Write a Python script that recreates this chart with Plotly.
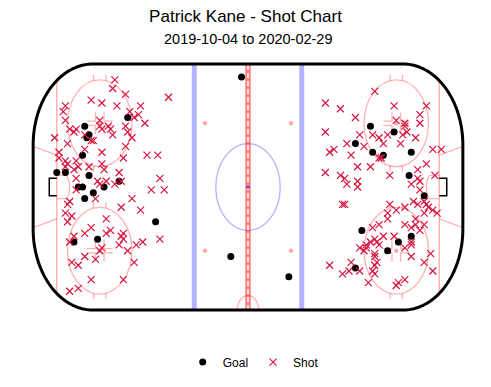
import numpy as np
import plotly.graph_objects as go

# ---------------- data (rink feet) ----------------
goal_x = [-76, -74, -75, -56, -77, -89, -85, -74, -60, -79, -77, -67, -72, -76, -43, -81, -70,
          -3, -8, 19,
          57, 68, 50, 58, 63, 76, 75, 82, 53, 76, 70, 65, 50]
goal_y = [21, 18, 17, 24, 11, 5, 5, 4, 2, 0, 0, 0, -2, -4, -12, -19, -18,
          38, -24, -31,
          21, 19, 15, 12, 11, 12, 4, -3, -15, -17, -19, -22, -28]

shot_x = [-62, -63, -57, -37, -73, -68, -85, -61, -50, -86, -55, -51, -53, -48, -85, -83, -81, -80,
          -69, -69, -68, -65, -64, -63, -57, -56, -54, -90, -84, -76, -73, -72, -57, -76, -68, -58,
          -47, -42, -88, -88, -85, -84, -80, -79, -74, -68, -67, -85, -81, -80, -60, -70, -69, -66,
          -62, -59, -41, -80, -45, -39, -71, -54, -84, -83, -59, -50, -85, -82, -84, -66, -73, -76,
          -66, -64, -58, -59, -58, -60, -81, -83, -52, -49, -41, -56, -68, -69, -76, -71, -53, -82,
          -79, -73, -58, -79, -83,
          59, 36, 43, 68, 83, 50, 80, 80, 69, 73, 73, 36, 52, 58, 61, 65, 72, 74, 78, 46, 54, 63,
          71, 38, 40, 48, 61, 62, 86, 90, 51, 57, 66, 36, 43, 45, 46, 51, 51, 79, 83, 87, 79, 80,
          76, 80, 44, 45, 66, 69, 73, 77, 79, 82, 83, 84, 86, 88, 65, 65, 82, 78, 73, 76, 78, 80,
          82, 58, 61, 63, 68, 59, 60, 57, 55, 55, 52, 54, 61, 73, 76, 76, 76, 59, 59, 60, 59, 58,
          59, 85, 82, 86, 48, 47, 44, 52, 38, 56, 69, 70, 73]
shot_y = [37, 34, 32, 31, 30, 29, 28, 28, 28, 26, 26, 25, 24, 22, 23, 20, 19, 20,
          23, 21, 20, 21, 20, 18, 21, 19, 17, 17, 15, 18, 16, 16, 14, 13, 12, 10,
          11, 11, 12, 10, 9, 8, 9, 7, 7, 8, 6, 7, 6, 3, 5, 2, 1, 2,
          1, 2, 3, -1, -1, -1, -4, -4, -6, -5, -7, -8, -9, -10, -12, -11, -14, -16,
          -16, -15, -16, -17, -18, -20, -17, -19, -20, -19, -18, -22, -21, -22, -24, -25, -26, -26,
          -27, -32, -32, -35, -36,
          33, 29, 27, 28, 28, 24, 25, 22, 23, 22, 21, 19, 18, 18, 17, 18, 18, 19, 17, 15, 14, 15,
          15, 12, 13, 11, 10, 10, 13, 13, 7, 7, 4, 5, 4, 3, 1, 2, 0, 6, 8, 4, 3, 2,
          1, -1, -6, -6, -6, -8, -7, -5, -6, -5, -6, -7, -8, -9, -9, -11, -9, -11, -13, -14, -13, -15,
          -13, -14, -13, -17, -17, -18, -19, -19, -20, -21, -21, -22, -20, -21, -19, -20, -24, -23, -24, -26, -27, -29,
          -30, -23, -26, -29, -26, -29, -30, -29, -27, -33, -34, -33, -32]

title_text = "Patrick Kane - Shot Chart"
subtitle_text = "2019-10-04 to 2020-02-29"

# ---------------- rink geometry ----------------
PINK = "rgba(255,0,0,0.3)"
PINK_FILL = "rgba(255,0,0,0.35)"
BLUE = "rgba(0,0,255,0.3)"
RED = "rgba(255,0,0,0.5)"
FONT = "Liberation Sans, Arial, Helvetica, sans-serif"

shapes = []


def path(xs, ys, close=False):
    s = "M " + " L ".join(f"{x:.3f},{y:.3f}" for x, y in zip(xs, ys))
    return s + (" Z" if close else "")


def add_path(xs, ys, color, width, close=False, fill=None, dash=None):
    d = dict(type="path", path=path(xs, ys, close), xref="x", yref="y", layer="below",
             line=dict(color=color, width=width))
    if dash:
        d["line"]["dash"] = dash
    if fill:
        d["fillcolor"] = fill
    shapes.append(d)


def arc(cx, cy, r, a0, a1, n=60):
    t = np.radians(np.linspace(a0, a1, n))
    return list(cx + r * np.cos(t)), list(cy + r * np.sin(t))


def add_line(x0, y0, x1, y1, color, width, dash=None):
    d = dict(type="line", x0=x0, y0=y0, x1=x1, y1=y1, xref="x", yref="y", layer="below",
             line=dict(color=color, width=width))
    if dash:
        d["line"]["dash"] = dash
    shapes.append(d)


def add_circle(cx, cy, rx, ry, color=None, width=0, fill=None):
    d = dict(type="circle", x0=cx - rx, x1=cx + rx, y0=cy - ry, y1=cy + ry, xref="x", yref="y",
             layer="below", line=dict(color=color or "rgba(0,0,0,0)", width=width))
    if fill:
        d["fillcolor"] = fill
    shapes.append(d)


R = 28.0
yext = 14.5 + np.sqrt(R ** 2 - (89 - 72) ** 2)

# goal lines
for s in (-1, 1):
    add_line(s * 89, -yext, s * 89, yext, PINK, 1.5)
    # trapezoids
    add_line(s * 89, 11, s * 100, 14, PINK, 1.3)
    add_line(s * 89, -11, s * 100, -14, PINK, 1.3)

# blue lines
for s in (-1, 1):
    add_line(s * 25, -42.5, s * 25, 42.5, BLUE, 5)

# center circle
add_circle(0, 0, 15, 15, color=BLUE, width=1.3)

# end zone faceoff circles
for sx in (-1, 1):
    for sy in (-1, 1):
        cx, cy = sx * 69, sy * 22
        add_circle(cx, cy, 15, 15, color=PINK, width=1.3)
        hy = np.sqrt(15 ** 2 - 2.875 ** 2)
        for hx in (-2.875, 2.875):
            for hs in (-1, 1):
                add_line(cx + hx, cy + hs * hy, cx + hx, cy + hs * (hy + 2), PINK, 1.3)
        for lx in (-1, 1):
            for ly in (-1, 1):
                add_path([cx + lx * 6, cx + lx * 2, cx + lx * 2],
                         [cy + ly * 0.75, cy + ly * 0.75, cy + ly * 3.75], PINK, 1.3)
        add_circle(cx, cy, 1.0, 0.75, fill=PINK_FILL)

# neutral zone dots
for sx in (-1, 1):
    for sy in (-1, 1):
        add_circle(sx * 20, sy * 22, 1.0, 0.75, fill=PINK_FILL)

# creases and nets
for s in (-1, 1):
    xs_a, ys_a = arc(0, 0, 6, -np.degrees(np.arcsin(4 / 6)), np.degrees(np.arcsin(4 / 6)))
    cx = [s * 89] + [s * (89 - x) for x in xs_a] + [s * 89]
    cy = [-4] + ys_a + [4]
    add_path(cx, cy, PINK, 1.3)
    add_path([s * 89, s * 92.5, s * 92.5, s * 89], [3, 3, -3, -3], "black", 1.5)

# referee crease
rx, ry = arc(0, -42.5, 5, 0, 180)
add_path(rx, ry, PINK, 1.3)

# red center line with white dashes
add_line(0, -42.5, 0, 42.5, RED, 5.5)
add_line(0, -42.5, 0, 42.5, "white", 1.5, dash="5px,3px")

# center dot
add_circle(0, 0, 0.75, 0.6, fill="rgba(60,30,230,0.8)")

# boards
bx, by = [], []
for (cxx, cyy, a0, a1) in [(72, 14.5, 90, 0), (72, -14.5, 0, -90),
                           (-72, -14.5, -90, -180), (-72, 14.5, 180, 90)]:
    ax_, ay_ = arc(cxx, cyy, R, a0, a1)
    bx += ax_
    by += ay_
add_path(bx, by, "black", 3, close=True)

# ---------------- figure ----------------
fig = go.Figure()
fig.add_trace(go.Scatter(x=goal_x, y=goal_y, mode="markers", name="Goal",
                         marker=dict(symbol="circle", size=7, color="black")))
fig.add_trace(go.Scatter(x=shot_x, y=shot_y, mode="markers", name="Shot",
                         marker=dict(symbol="x-thin", size=7, color="#D7143F",
                                     line=dict(color="#D7143F", width=1.2))))

fig.update_layout(
    width=491, height=387,
    margin=dict(l=31, r=26, t=61, b=73),
    paper_bgcolor="white", plot_bgcolor="white",
    font=dict(family=FONT, color="black"),
    title=dict(text=title_text, x=0.5, xref="container", xanchor="center",
               y=1 - 16 / 387, yanchor="middle", font=dict(size=17, family=FONT, color="black")),
    annotations=[dict(text=subtitle_text, x=0.5, xref="paper", xanchor="center",
                      y=1 + 22 / 253, yref="paper", yanchor="middle", showarrow=False,
                      font=dict(size=14.5, family=FONT, color="black"))],
    shapes=shapes,
    showlegend=True,
    legend=dict(orientation="h", x=0.512, xanchor="center", y=-0.19, yanchor="middle",
                font=dict(size=12, family=FONT, color="black")),
    xaxis=dict(range=[-101, 101], visible=False, fixedrange=True),
    yaxis=dict(range=[-43.5, 43.5], visible=False, fixedrange=True),
)

fig.write_html("out.html", config={"displayModeBar": False},
               post_script="document.body.style.margin='0';document.body.style.padding='0';")
